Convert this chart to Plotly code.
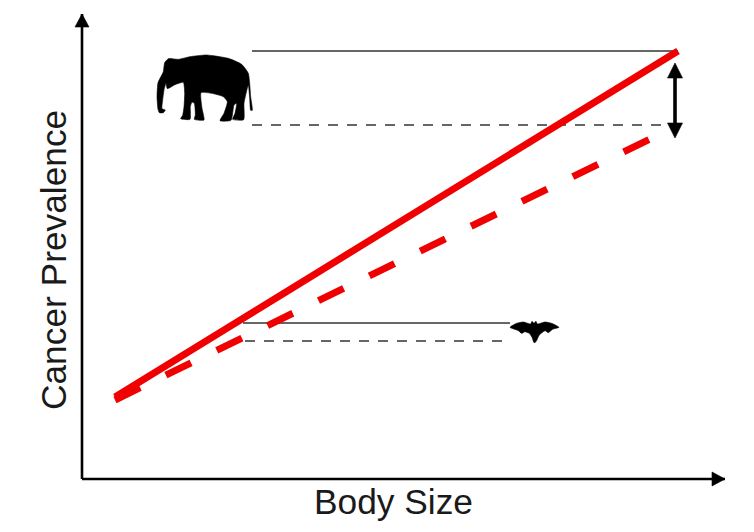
import plotly.graph_objects as go

# Values in chart units: origin at the axes' corner
body_size_range = [0, 643]
prevalence_range = [0, 465]

solid_size = [33, 596]
solid_prevalence = [82, 428]
dashed_size = [33, 570]
dashed_prevalence = [79, 341]

elephant_ref_size = [170, 596]
elephant_ref_solid = [428, 428]
elephant_ref_dashed_size = [170, 584]
elephant_ref_dashed = [354, 354]

bat_ref_size = [161, 428]
bat_ref_solid = [156, 156]
bat_ref_dashed_size = [163, 428]
bat_ref_dashed = [138, 138]

gap_size = [593, 593]
gap_prevalence = [352, 403]

elephant_outline = [(58,218),(70,218),(76,210),(66,206),(68,180),(72,150),(78,130),(82,146),(105,134),
    (130,127),(134,160),(132,200),(128,226),(122,236),(150,238),(151,200),(156,186),(163,190),(166,225),(163,238),
    (192,240),(186,205),(183,158),(215,160),(250,170),(262,185),(252,220),(240,242),(273,241),
    (282,195),(290,190),(285,220),(278,238),(311,239),(312,190),(325,135),(329,175),(332,211),(337,211),
    (332,170),(329,130),(325,100),(305,73),(265,55),(200,45),(150,50),
    (115,58),(85,56),(74,68),(70,95),(54,128),(51,170),(54,208)]
bat_outline = [(60,82),(80,70),(100,66),(122,72),(126,64),(132,70),(138,64),(142,72),(165,66),
    (185,70),(207,82),(188,88),(175,98),(165,92),(148,105),(138,125),(132,128),(126,112),
    (118,100),(105,95),(95,100),(85,92)]

RED = "#f00000"
GREY = "#666666"
X0, Y0 = 82, 479


def silhouette(points, ox, oy):
    xs = [ox + p[0] / 3 - X0 for p in points]
    ys = [Y0 - (oy + p[1] / 3) for p in points]
    return xs + xs[:1], ys + ys[:1]


def line(x, y, color, width, dash="solid"):
    return go.Scatter(x=x, y=y, mode="lines", hoverinfo="skip", showlegend=False,
                      line=dict(color=color, width=width, dash=dash))


def blob(x, y, color="#000000", shape="linear"):
    return go.Scatter(x=x, y=y, mode="lines", fill="toself", fillcolor=color, hoverinfo="skip",
                      showlegend=False, line=dict(color=color, width=0.6, shape=shape, smoothing=0.5))


fig = go.Figure()
# Axes with arrow heads
fig.add_trace(line(body_size_range, [0, 0], "#000000", 2.6))
fig.add_trace(line([0, 0], prevalence_range, "#000000", 2.6))
fig.add_trace(blob([-7, 7, 0, -7], [452, 452, 465, 452]))
fig.add_trace(blob([630, 630, 643, 630], [-7, 7, 0, -7]))

fig.add_trace(line(elephant_ref_size, elephant_ref_solid, GREY, 2))
fig.add_trace(line(elephant_ref_dashed_size, elephant_ref_dashed, GREY, 2, "10px,9px"))
fig.add_trace(line(bat_ref_size, bat_ref_solid, GREY, 2))
fig.add_trace(line(bat_ref_dashed_size, bat_ref_dashed, GREY, 2, "10px,9px"))
fig.add_trace(line(solid_size, solid_prevalence, RED, 7))
fig.add_trace(line(dashed_size, dashed_prevalence, RED, 7, "28px,28.6px"))
fig.add_trace(line(gap_size, gap_prevalence, "#000000", 3.6))

# Arrow heads on the gap marker
gx = gap_size[0]
fig.add_trace(blob([gx - 7.5, gx + 7.5, gx, gx - 7.5], [401, 401, 416, 401]))
fig.add_trace(blob([gx - 7.5, gx + 7.5, gx, gx - 7.5], [356, 356, 341, 356]))

# Silhouettes
ex, ey = silhouette(elephant_outline, 140, 40)
fig.add_trace(blob(ex, ey, shape="spline"))
bx, by = silhouette(bat_outline, 490, 300)
fig.add_trace(blob(bx, by, shape="spline"))

hidden = dict(showgrid=False, zeroline=False, showticklabels=False, ticks="", showline=False,
              fixedrange=True)
fig.update_layout(
    width=754, height=532, autosize=False,
    margin=dict(l=0, r=0, t=0, b=0, pad=0),
    paper_bgcolor="#ffffff", plot_bgcolor="#ffffff", showlegend=False,
    xaxis=dict(hidden, range=[-X0, 754 - X0]),
    yaxis=dict(hidden, range=[Y0 - 532, Y0]),
    font=dict(family="Liberation Sans, Arial, sans-serif", color="#1a1a1a", size=35),
    annotations=[
        dict(text="Body Size", x=311, y=-22, xref="x", yref="y", showarrow=False,
             font=dict(size=35.3), xanchor="center", yanchor="middle"),
        dict(text="Cancer Prevalence", x=-29, y=219, xref="x", yref="y", showarrow=False,
             textangle=-90, font=dict(size=35.3), xanchor="center", yanchor="middle"),
    ],
)
fig.write_html("out.html", config={"displayModeBar": False},
               post_script="document.body.style.margin='0';window.dispatchEvent(new Event('resize'));")
